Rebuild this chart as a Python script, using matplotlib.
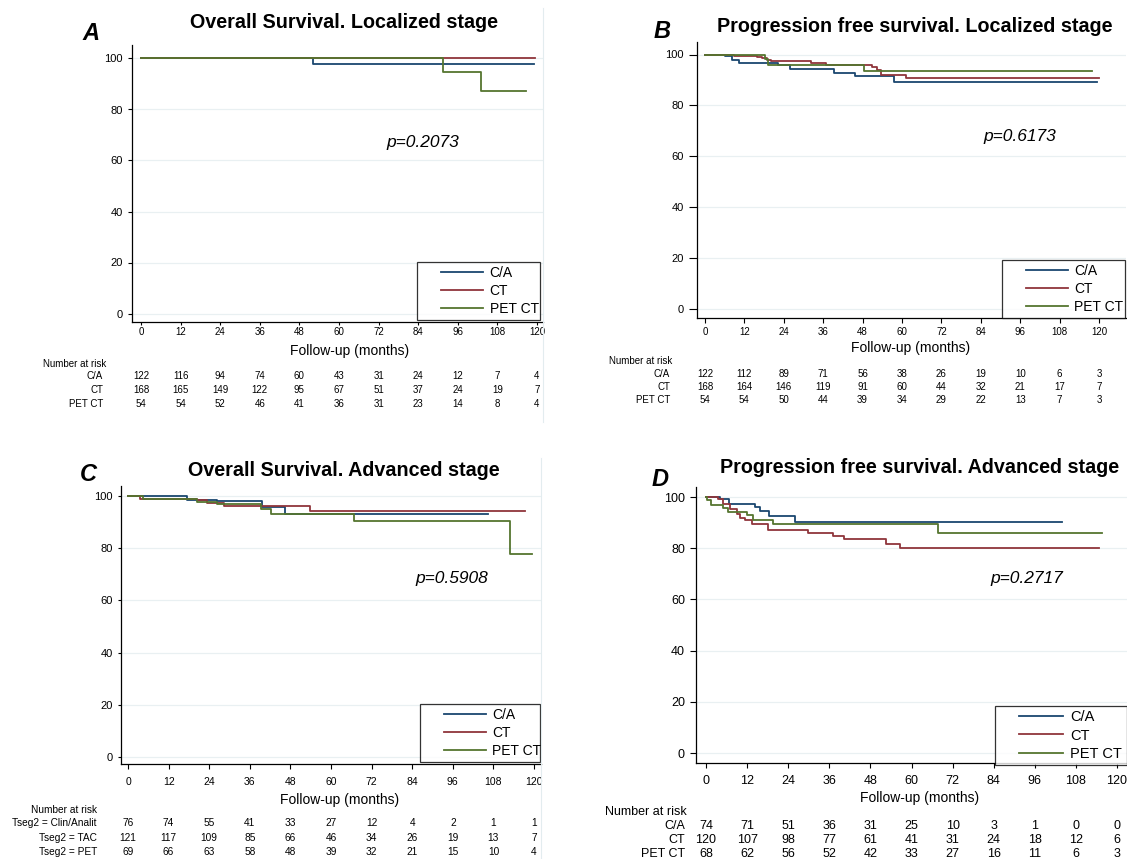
import matplotlib
matplotlib.use("Agg")
import matplotlib.pyplot as plt
from matplotlib.transforms import blended_transform_factory
from matplotlib.legend_handler import HandlerLine2D
from matplotlib.lines import Line2D

plt.rcParams['font.family'] = ['Liberation Sans', 'DejaVu Sans']

W, H = 1127, 859
fig = plt.figure(figsize=(W / 100, H / 100), dpi=100)

BLUE = "#1a476f"
RED = "#90353b"
GREEN = "#55752f"

months = [0, 12, 24, 36, 48, 60, 72, 84, 96, 108, 120]
yticks = [0, 20, 40, 60, 80, 100]
groups = ["C/A", "CT", "PET CT"]

# ---------- Panel A: Overall survival, localized ----------
a_ca_t = [0, 52, 119];  a_ca_s = [100, 98.0, 98.0]
a_ct_t = [0, 119.5];    a_ct_s = [100, 100]
a_pet_t = [0, 91.5, 103, 116.7]; a_pet_s = [100, 94.6, 87.2, 87.2]
a_risk_ca = [122, 116, 94, 74, 60, 43, 31, 24, 12, 7, 4]
a_risk_ct = [168, 165, 149, 122, 95, 67, 51, 37, 24, 19, 7]
a_risk_pet = [54, 54, 52, 46, 41, 36, 31, 23, 14, 8, 4]

# ---------- Panel B: PFS, localized ----------
b_ca_t = [0, 6.2, 8.3, 10.5, 22.3, 26.0, 39.3, 45.7, 57.7, 119.5]
b_ca_s = [100, 99.4, 97.8, 96.7, 95.8, 94.4, 92.9, 91.5, 89.1, 89.1]
b_ct_t = [0, 8.8, 15.9, 17.5, 18.8, 20.0, 32.3, 37.0, 50.8, 52.4, 53.6, 61.1, 120]
b_ct_s = [100, 99.5, 99.1, 98.7, 97.8, 97.5, 96.8, 96.0, 95.1, 93.8, 92.0, 90.6, 90.6]
b_pet_t = [0, 18.2, 19.2, 48.5, 118]
b_pet_s = [100, 98.2, 96.0, 93.4, 93.4]
b_risk_ca = [122, 112, 89, 71, 56, 38, 26, 19, 10, 6, 3]
b_risk_ct = [168, 164, 146, 119, 91, 60, 44, 32, 21, 17, 7]
b_risk_pet = [54, 54, 50, 44, 39, 34, 29, 22, 13, 7, 3]

# ---------- Panel C: Overall survival, advanced ----------
c_ca_t = [0, 17.5, 26.2, 39.7, 46.4, 106.5]
c_ca_s = [100, 98.5, 97.9, 95.8, 93.0, 93.0]
c_ct_t = [0, 3.5, 20.3, 23.3, 28.3, 53.8, 117.3]
c_ct_s = [100, 99.0, 98.3, 97.2, 96.3, 94.4, 94.4]
c_pet_t = [0, 4.5, 20.3, 26.2, 39.3, 42.2, 66.9, 112.9, 119.3]
c_pet_s = [100, 98.8, 97.8, 96.9, 95.2, 93.1, 90.5, 77.8, 77.8]
c_risk_ca = [76, 74, 55, 41, 33, 27, 12, 4, 2, 1, 1]
c_risk_ct = [121, 117, 109, 85, 66, 46, 34, 26, 19, 13, 7]
c_risk_pet = [69, 66, 63, 58, 48, 39, 32, 21, 15, 10, 4]
c_groups = ["Tseg2 = Clin/Analit", "Tseg2 = TAC", "Tseg2 = PET"]

# ---------- Panel D: PFS, advanced ----------
d_ca_t = [0, 4.1, 6.8, 14.3, 15.8, 18.4, 26.0, 103.8]
d_ca_s = [100, 99.1, 97.4, 96.1, 94.5, 92.6, 90.4, 90.4]
d_ct_t = [0, 3.6, 5.1, 7.0, 8.95, 9.9, 11.4, 13.3, 18.2, 29.7, 37.0, 40.3, 52.6, 56.6, 114.7]
d_ct_s = [100, 99.1, 97.1, 95.2, 93.2, 91.9, 90.9, 89.4, 87.0, 86.1, 84.8, 83.5, 81.8, 79.9, 79.9]
d_pet_t = [0, 0.3, 1.4, 5.1, 6.5, 12.1, 13.8, 19.5, 67.6, 115.7]
d_pet_s = [100, 98.7, 96.9, 95.8, 94.2, 93.0, 90.9, 89.4, 86.1, 86.1]
d_risk_ca = [74, 71, 51, 36, 31, 25, 10, 3, 1, 0, 0]
d_risk_ct = [120, 107, 98, 77, 61, 41, 31, 24, 18, 12, 6]
d_risk_pet = [68, 62, 56, 52, 42, 33, 27, 16, 11, 6, 3]


def fy(y):
    return 1 - y / H


def fx(x):
    return x / W


def ftext(x, y, s, **kw):
    fig.text(fx(x), fy(y), s, **kw)


def make_axes(x0, x120, y100, y0, left, right, top, bottom):
    sx = (x120 - x0) / 120.0
    sy = (y0 - y100) / 100.0
    ax = fig.add_axes([fx(left), fy(bottom), (right - left) / W, (bottom - top) / H])
    ax.set_xlim((left - x0) / sx, (right - x0) / sx)
    ax.set_ylim((y0 - bottom) / sy, (y0 - top) / sy)
    for sp in ["top", "right"]:
        ax.spines[sp].set_visible(False)
    for sp in ["left", "bottom"]:
        ax.spines[sp].set_color("black")
        ax.spines[sp].set_linewidth(0.9)
    ax.set_xticks(months)
    ax.set_yticks(yticks)
    for v in yticks:
        ax.axhline(v, color="#e9f0f2", lw=0.9, zorder=0)
    return ax


def draw_panel(ax, curves, xfs, yfs, xpad, xlen, ypad, ylen, leg_box, leg_fs):
    for (t, s, c, lab) in curves:
        ax.step(t, s, where="post", color=c, lw=1.3, label=lab)
    ax.tick_params(axis="x", labelsize=xfs, length=xlen, pad=xpad, width=0.8)
    ax.tick_params(axis="y", labelsize=yfs, length=ylen, pad=ypad, width=0.8)
    l, r, b = leg_box
    hpad = 20.0 / (leg_fs * 100 / 72.0)
    leg = ax.legend(loc="lower left",
                    bbox_to_anchor=(fx(l), fy(b), fx(r) - fx(l), 0.05),
                    bbox_transform=fig.transFigure, mode="expand",
                    frameon=True, fancybox=False,
                    edgecolor="black", fontsize=leg_fs, handlelength=3.0 + hpad,
                    labelspacing=0.3, borderpad=0.28, handletextpad=0.5,
                    borderaxespad=0,
                    handler_map={Line2D: HandlerLine2D(xpad=hpad)})
    leg.get_frame().set_linewidth(0.9)


def risk_table(ax, rows, labels, label_x, ys, header, header_xy, header_ha, fs):
    tr = blended_transform_factory(ax.transData, fig.transFigure)
    ftext(header_xy[0], header_xy[1], header, ha=header_ha, va="center", fontsize=fs)
    for vals, lab, y in zip(rows, labels, ys):
        ftext(label_x, y, lab, ha="right", va="center", fontsize=fs)
        for m, v in zip(months, vals):
            ax.text(m, fy(y), str(v), transform=tr, ha="center", va="center", fontsize=fs)


# faint graph-region borders
for (x, y1, y2) in [(543, 8, 422), (541, 458, 859)]:
    fig.add_artist(plt.Line2D([fx(x), fx(x)], [fy(y1), fy(y2)], color="#e3ecef", lw=0.8))

TFS = 14.2   # title size
PFS = 12.5   # p-value size

# ---- A ----
axA = make_axes(141, 537, 58.5, 313.5, 132, 543, 45, 322)
draw_panel(axA, [(a_ca_t, a_ca_s, BLUE, groups[0]), (a_ct_t, a_ct_s, RED, groups[1]),
                 (a_pet_t, a_pet_s, GREEN, groups[2])],
           7, 8, 1.0, 2.5, 3.5, 3, (417, 540, 320), 10)
ftext(344, 22, "Overall Survival. Localized stage", ha="center", va="center",
      fontsize=TFS, fontweight="bold")
ftext(91, 33, "A", ha="center", va="center", fontsize=17, fontweight="bold", style="italic")
ftext(423, 142, "p=0.2073", ha="center", va="center", fontsize=PFS, style="italic")
ftext(350, 351, "Follow-up (months)", ha="center", va="center", fontsize=10)
risk_table(axA, [a_risk_ca, a_risk_ct, a_risk_pet], groups, 103, [376, 390, 404],
           "Number at risk", (43, 364), "left", 7)

# ---- B ----
axB = make_axes(705, 1099, 54.5, 309, 697, 1126, 42, 318)
draw_panel(axB, [(b_ca_t, b_ca_s, BLUE, groups[0]), (b_ct_t, b_ct_s, RED, groups[1]),
                 (b_pet_t, b_pet_s, GREEN, groups[2])],
           7, 8, 3.0, 3.5, 3.5, 6, (1002, 1125, 318), 10)
ftext(915, 26, "Progression free survival. Localized stage", ha="center", va="center",
      fontsize=TFS, fontweight="bold")
ftext(662, 31, "B", ha="center", va="center", fontsize=17, fontweight="bold", style="italic")
ftext(1020, 137, "p=0.6173", ha="center", va="center", fontsize=PFS, style="italic")
ftext(911, 348, "Follow-up (months)", ha="center", va="center", fontsize=10)
risk_table(axB, [b_risk_ca, b_risk_ct, b_risk_pet], groups, 670, [374, 387, 400],
           "Number at risk", (609, 361), "left", 7)

# ---- C ----
axC = make_axes(128, 534, 496, 757, 121, 541, 486, 764)
draw_panel(axC, [(c_ca_t, c_ca_s, BLUE, groups[0]), (c_ct_t, c_ct_s, RED, groups[1]),
                 (c_pet_t, c_pet_s, GREEN, groups[2])],
           7.5, 8, 6.0, 3.5, 3.5, 2.5, (420, 540, 762), 10)
ftext(344, 470, "Overall Survival. Advanced stage", ha="center", va="center",
      fontsize=TFS, fontweight="bold")
ftext(88, 475, "C", ha="center", va="center", fontsize=17, fontweight="bold", style="italic")
ftext(452, 579, "p=0.5908", ha="center", va="center", fontsize=PFS, style="italic")
ftext(340, 800, "Follow-up (months)", ha="center", va="center", fontsize=10)
risk_table(axC, [c_risk_ca, c_risk_ct, c_risk_pet], c_groups, 97, [823, 838, 852],
           "Number at risk", (97, 810), "right", 7.3)

# ---- D ----
axD = make_axes(706, 1117, 497, 753, 696, 1127, 487, 763)
draw_panel(axD, [(d_ca_t, d_ca_s, BLUE, groups[0]), (d_ct_t, d_ct_s, RED, groups[1]),
                 (d_pet_t, d_pet_s, GREEN, groups[2])],
           9, 9, 5.0, 3.5, 4, 4, (995, 1127, 765), 10.5)
ftext(920, 467, "Progression free survival. Advanced stage", ha="center", va="center",
      fontsize=TFS, fontweight="bold")
ftext(660, 480, "D", ha="center", va="center", fontsize=17, fontweight="bold", style="italic")
ftext(1027, 578, "p=0.2717", ha="center", va="center", fontsize=PFS, style="italic")
ftext(920, 798, "Follow-up (months)", ha="center", va="center", fontsize=10)
risk_table(axD, [d_risk_ca, d_risk_ct, d_risk_pet], groups, 685, [826, 840, 854],
           "Number at risk", (605, 812), "left", 9)

fig.savefig("out.png", dpi=100)
